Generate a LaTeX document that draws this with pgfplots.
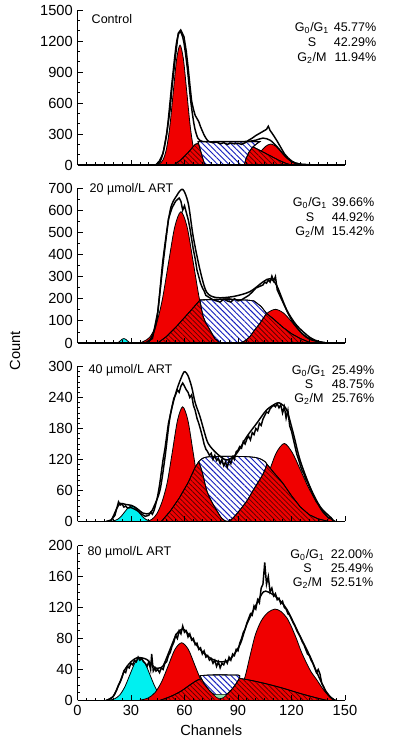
\documentclass[border=0pt]{standalone}
\usepackage{fontspec}
\setmainfont{Liberation Sans}
\usepackage{pgfplots}
\pgfplotsset{compat=1.18}
\usetikzlibrary{patterns.meta}
\definecolor{pkred}{RGB}{240,0,0}
\definecolor{hred}{RGB}{95,0,0}
\definecolor{hblue}{RGB}{20,30,190}
\definecolor{pkcyan}{RGB}{0,240,240}
\definecolor{pkgreen}{RGB}{140,225,170}
\newcommand\ann{\fontsize{9.4}{10}\selectfont}
\newcommand\tlf{\fontsize{11}{12}\selectfont}
\pgfplotsset{
  panel/.style={
    scale only axis, width=200.6pt, height=116.25pt,
    xmin=0, xmax=150, ymin=0,
    axis lines=left, axis line style={-, line width=0.9pt},
    xtick={0,30,...,150}, minor x tick num=5,
    tick align=inside,
    major tick length=4pt, minor tick length=2.2pt,
    every tick/.style={black, line width=0.6pt},
    tick label style={font=\tlf},
    label style={font=\tlf},
    /pgf/number format/assume math mode=true,
    /pgf/number format/1000 sep={},
    axis on top,
  },
  pk/.style={fill=pkred, draw=black, line width=0.6pt},
  cy/.style={fill=pkcyan, draw=black, line width=0.6pt},
  hr/.style={fill=pkred, draw=black, line width=0.6pt,
    postaction={pattern={Lines[angle=-45,distance=2.6pt,line width=0.6pt]}, pattern color=hred}},
  hb/.style={fill=white, draw=black, line width=0.6pt,
    postaction={pattern={Lines[angle=-45,distance=3pt,line width=0.7pt]}, pattern color=hblue}},
  ol/.style={black, line width=1.1pt},
}
\newcommand\stats[8]{%
  \node[anchor=mid, font=\ann] at (#1,#3) {G\textsubscript{0}/G\textsubscript{1}};
  \node[anchor=mid, font=\ann] at (#1,#4) {S};
  \node[anchor=mid, font=\ann] at (#1,#5) {G\textsubscript{2}/M};
  \node[anchor=mid east, font=\ann] at (#2,#3) {#6};
  \node[anchor=mid east, font=\ann] at (#2,#4) {#7};
  \node[anchor=mid east, font=\ann] at (#2,#5) {#8};
}
\begin{document}
\begin{tikzpicture}[x=0.75pt,y=0.75pt]
\useasboundingbox (0,0) rectangle (406,750);

% ---------------- Panel 1: Control
\begin{axis}[panel, at={(58.125pt,438.75pt)}, anchor=south west,
  ymax=1500, ytick={0,300,...,1500}, minor y tick num=2, xticklabels={}]
\addplot[pk, smooth] coordinates {(45,0)(46.1,13)(48,51)(49.9,157)(51.8,377)(53.7,704)(55.6,1024)(57.5,1160)(59.4,1024)(61.3,704)(63.2,377)(65.1,157)(67,51)(68.9,13)(70,0)} -- cycle;
\addplot[pk, smooth] coordinates {(89,0)(90.4,2)(93.4,9)(96.4,28)(99.4,66)(102.4,123)(105.4,179)(108.4,203)(111.4,179)(114.4,123)(117.4,66)(120.4,28)(123.4,9)(126.4,2)(128,0)} -- cycle;
\addplot[hr] coordinates {(54,0)(58,50)(62,120)(66,200)(70,222)(85,225)(95,212)(98,180)(103,135)(108,90)(113,45)(117,15)(120,0)} -- cycle;
\addplot[hb] coordinates {(67.6,226)(75,227)(85,227)(95,226)(102.3,226)(100.5,205)(98,170)(96,120)(94.5,60)(93.5,0)(71.5,0)(70.5,50)(69.5,110)(68.5,170)} -- cycle;
\addplot[ol, smooth] coordinates {(40,0)(44,1)(47,60)(50,300)(53,800)(55.5,1180)(57.5,1290)(59.5,1200)(61.5,950)(63.5,620)(65.5,380)(67.5,260)(70,228)(75,225)(85,227)(95,228)(100,240)(104,260)(108,240)(112,175)(116,95)(120,35)(124,10)(128,2)(133,0)};
\addplot[ol] coordinates {(40,0)(44,2)(46,40)(48,113)(50,300)(51.9,532)(53,750)(54.7,1016)(56.5,1275)(57.9,1307)(59.7,1242)(61,1100)(62,950)(63,780)(64,620)(65,540)(66,480)(67,450)(68,420)(69,370)(70,330)(71,290)(72,260)(73,235)(74,225)(76,215)(78,222)(80,205)(82,215)(84,200)(86,212)(88,205)(90,210)(92,200)(94,215)(96,240)(98,260)(100,285)(102,305)(104,325)(106,345)(107,375)(108,335)(110,285)(112,230)(114,170)(116,110)(118,70)(120,40)(122,20)(125,8)(130,3)(135,0)};
\end{axis}
\node[anchor=west, font=\ann] at (87,731) {Control};
\stats{312}{381}{722}{707}{692.5}{45.77\%}{42.29\%}{11.94\%}

% ---------------- Panel 2: 20
\begin{axis}[panel, at={(58.125pt,305.25pt)}, anchor=south west,
  ymax=700, ytick={0,100,...,700}, minor y tick num=1, xticklabels={}]
\addplot[cy, smooth] coordinates {(21,0)(23,3)(24,10)(25,17)(26,20)(27,17)(28,10)(29,3)(31,0)} -- cycle;
\addplot[pk, smooth] coordinates {(35,0)(37,7)(40.5,26)(44,80)(47.5,193)(51,360)(54.5,523)(58,593)(61.5,523)(65,360)(68.5,193)(72,80)(75.5,26)(79,7)(81,0)} -- cycle;
\addplot[pk, smooth] coordinates {(80,0)(82.5,2)(87.25,7)(92,21)(96.75,49)(101.5,92)(106.25,134)(111,152)(115.75,134)(120.5,92)(125.25,49)(130,21)(134.75,7)(139.5,2)(142,0)} -- cycle;
\addplot[hr] coordinates {(45,0)(50,30)(55,70)(60,115)(65,160)(68.7,194)(85,200)(100,180)(106,134)(110,108)(115,72)(120,42)(125,20)(131,0)} -- cycle;
\addplot[hb] coordinates {(68.7,194)(75,196)(85,197)(95,194)(99,190)(103,165)(106,134)(102.3,89)(99,55)(96.7,29)(94,10)(91,0)(80,0)(77,20)(74.3,59)(72,90)(70.5,119)(69.5,155)} -- cycle;
\addplot[ol, smooth] coordinates {(20,0)(36,0)(40,5)(44.4,100)(48,380)(52,600)(55.6,665)(59,694)(62.1,631)(64.9,480)(68.7,330)(72.4,230)(78,205)(87.4,210)(96.7,232)(104.2,277)(108,290)(111.7,260)(117.3,150)(122.9,80)(130.4,25)(136,5)(140,0)};
\addplot[ol] coordinates {(20,0)(38,0)(42,20)(45,140)(48,360)(51,560)(53,610)(55,640)(57,655)(58,640)(59,600)(60,620)(61,590)(62,560)(63,520)(64,470)(65,420)(66,380)(67,330)(68,300)(69,270)(70,250)(71,235)(72,215)(74,205)(76,195)(78,190)(80,185)(82,198)(84,190)(86,185)(88,200)(90,190)(92,195)(94,205)(96,215)(98,230)(100,248)(102,255)(104,262)(105,275)(106,270)(107,285)(108,275)(109,302)(110,280)(111,300)(112,240)(114,205)(116,170)(118,135)(120,105)(122,80)(124,60)(126,42)(128,28)(130,18)(132,12)(134,8)(136,5)(138,2)(140,0)};
\end{axis}
\node[anchor=west, font=\ann] at (85,561) {20 µmol/L ART};
\stats{310}{379}{547}{532}{518}{39.66\%}{44.92\%}{15.42\%}

% ---------------- Panel 3: 40
\begin{axis}[panel, at={(58.125pt,171.375pt)}, anchor=south west,
  ymax=300, ytick={0,60,...,300}, minor y tick num=5, xticklabels={}]
\addplot[cy, smooth] coordinates {(16,0)(18.4,0.3)(20.4,1.3)(22.4,4)(24.4,9.7)(26.4,18.2)(28.4,26.5)(30.4,30)(32.4,26.5)(34.4,18.2)(36.4,9.7)(38.4,4)(40.4,1.3)(42.4,0.3)(44,0)} -- cycle;
\addplot[pk, smooth] coordinates {(38,0)(41.6,4)(44.5,15)(47.4,38)(50.3,75)(53.2,135)(56.1,196)(59,222)(61.9,196)(64.8,135)(67.7,72)(70.6,30)(73.5,10)(76.4,2.5)(79,0)} -- cycle;
\addplot[pk, smooth] coordinates {(87,0)(89,1.7)(93.5,6.6)(98,20.4)(102.5,49)(107,92)(111.5,133)(116,151)(120.5,133)(125,100)(129.5,66)(134,38)(138,16)(142,5)(145,0)} -- cycle;
\addplot[hr] coordinates {(47,0)(52,20)(57,45)(62,75)(66,105)(68,116)(85,125)(104,118)(106,112)(110,95)(115,75)(120,50)(125,28)(130,13)(135,5)(141,0)} -- cycle;
\addplot[hb, smooth] coordinates {(68,116)(70,122)(73,125)(80,126)(90,126)(97,125)(102,122)(106,112)(104.2,93)(102,80)(98.6,61)(95,40)(91,22)(87,6)(84,0)(81,6)(78,22)(75,40)(72.4,61)(70,95)(68,116)} -- cycle;
\addplot[ol, smooth] coordinates {(16,0)(18.8,2)(22,25)(24,35)(27,33)(30.4,31)(33,26)(36.9,16)(40.7,16)(43,30)(46.3,61)(49.1,125)(51.9,203)(55.6,254)(59,285)(60.3,290)(62,282)(64,261)(66,230)(68.7,203)(71,175)(73.3,151)(78,132)(83.7,119)(89.3,132)(94.9,164)(100.5,190)(106.1,216)(111.7,229)(114,228)(117.3,216)(121,171)(124.8,119)(130.4,67)(136,29)(141.6,9)(144,0)};
\addplot[ol] coordinates {(16,0)(19,3)(21,12)(22,25)(23,38)(24,32)(25,34)(26,28)(27,30)(28,26)(30,27)(32,24)(34,20)(36,14)(38,10)(40,12)(41,18)(42,14)(43,22)(44,35)(45,50)(46,70)(47,95)(48,120)(49,140)(50,165)(51,190)(52,205)(53,222)(54,238)(55,245)(56,255)(57,250)(58,262)(59,268)(60,262)(61,255)(62,250)(63,240)(64,245)(65,225)(66,215)(67,200)(68,190)(69,178)(70,165)(71,150)(72,140)(73,135)(74,128)(75,132)(76,120)(77,128)(78,118)(79,122)(80,112)(81,120)(82,108)(83,115)(84,105)(85,118)(86,112)(87,125)(88,120)(89,135)(90,138)(91,145)(92,142)(93,155)(94,150)(95,160)(96,165)(97,158)(98,172)(99,168)(100,180)(101,176)(102,190)(103,186)(104,198)(105,205)(106,212)(107,210)(108,218)(109,222)(110,225)(111,222)(112,228)(113,220)(114,226)(115,210)(116,222)(117,200)(118,215)(119,185)(120,175)(121,160)(122,145)(123,130)(124,120)(125,108)(126,98)(127,92)(128,82)(129,76)(130,68)(131,60)(132,52)(133,45)(134,38)(135,34)(136,28)(137,22)(138,18)(139,14)(140,10)(141,6)(142,8)(143,3)(144,0)};
\end{axis}
\node[anchor=west, font=\ann] at (84,380) {40 µmol/L ART};
\stats{309}{379}{379}{365}{351}{25.49\%}{48.75\%}{25.76\%}

% ---------------- Panel 4: 80
\begin{axis}[panel, at={(58.125pt,37.125pt)}, anchor=south west,
  ymax=200, ytick={0,40,...,200}, minor y tick num=3, xlabel={Channels}]
\addplot[cy, smooth] coordinates {(16,0)(18.2,0.6)(21,2.4)(23.8,7.4)(26.6,17.9)(29.4,33.4)(32.2,48.5)(35,55)(37.8,48.5)(40.6,33.4)(43.4,17.9)(46.2,7.4)(49,2.4)(51.8,0.6)(54,0)} -- cycle;
\addplot[pk, smooth] coordinates {(34,0)(35.9,0.8)(39.65,3.3)(43.4,10)(47.15,24)(50.9,45)(54.65,66)(58.4,74.5)(62.15,66)(65.9,45)(69.65,24)(73.4,10)(77.15,3.3)(80.9,0.8)(83,0)} -- cycle;
\addplot[pk, smooth] coordinates {(86,0)(88,3)(91,13)(94,31)(96.7,57)(99.5,83)(102,98)(104.2,107)(107,114)(110.7,118)(114,115)(117.3,107)(120,95)(122.9,79)(125.5,63)(128.5,48)(131,37)(134.1,27)(137,17)(139.7,9)(143.5,2)(145,0)} -- cycle;
\addplot[hr, smooth] coordinates {(46,0)(52,5)(58,12)(63,20)(68,27)(75,30)(85,30)(95,27)(105,22)(115,16)(125,9)(133,4)(140,0)} -- cycle;
\addplot[hb, smooth] coordinates {(68.7,32)(75,33)(85,33)(91,32)(89,22)(86,13)(83,7)(80,5)(77,7)(74,13)(71,22)(68.7,32)} -- cycle;
\addplot[fill=pkgreen, draw=black, line width=0.4pt] coordinates {(76,8)(84,8)(82,4)(80,2)(78,4)} -- cycle;
\addplot[ol, smooth] coordinates {(16,0)(19,3)(21,9)(24,25)(26.6,40)(30,50)(33.2,55)(36,55)(38.8,53)(41,48)(43.5,42)(46,42)(48.1,45)(51.9,66)(55.6,86)(59.3,92)(63.1,83)(68.7,66)(74.3,55)(79.9,50)(85.5,53)(91.1,72)(94.9,98)(100.5,125)(104.2,140)(107,140)(111.7,133)(117.3,118)(124.8,83)(130.4,57)(134.1,37)(138.8,14)(142.5,3)(145,0)};
\addplot[ol] coordinates {(16,0)(18,2)(20,5)(21,9)(22,14)(23,20)(24,24)(25,30)(26,38)(27,36)(28,44)(29,42)(30,48)(31,46)(32,52)(33,50)(34,56)(35,52)(36,54)(37,50)(38,48)(39,44)(40,50)(41,40)(41.6,60)(42.5,38)(43.5,42)(44,38)(45,40)(46,36)(47,42)(48,40)(49,48)(50,50)(51,58)(52,62)(53,70)(54,75)(55,84)(56,80)(57,90)(58,86)(59,96)(60,88)(61,90)(62,82)(63,86)(64,78)(65,80)(66,72)(67,74)(68,66)(69,68)(70,60)(71,64)(72,56)(73,58)(74,52)(75,54)(76,48)(77,52)(78,44)(79,50)(80,42)(81,48)(82,46)(83,52)(84,48)(85,56)(86,52)(87,60)(88,58)(89,66)(90,64)(91,74)(92,80)(93,88)(94,92)(95,100)(96,106)(97,112)(98,110)(99,122)(100,118)(101,130)(102,126)(103,145)(104,150)(105,178)(106,150)(107,160)(108,140)(109,145)(110,135)(111,138)(112,130)(113,132)(114,125)(115,128)(116,120)(117,118)(118,112)(119,110)(120,105)(121,100)(122,96)(123,90)(124,86)(125,82)(126,76)(127,72)(128,66)(129,60)(130,58)(131,52)(132,48)(133,42)(134,36)(135,40)(136,34)(137,22)(138,18)(139,12)(140,9)(141,6)(142,4)(143,2)(144,0)};
\end{axis}
\node[anchor=west, font=\ann] at (83,198) {80 µmol/L ART};
\stats{307.5}{378}{195}{181}{167}{22.00\%}{25.49\%}{52.51\%}

\node[rotate=90, font=\tlf] at (15,399) {Count};
\end{tikzpicture}
\end{document}
